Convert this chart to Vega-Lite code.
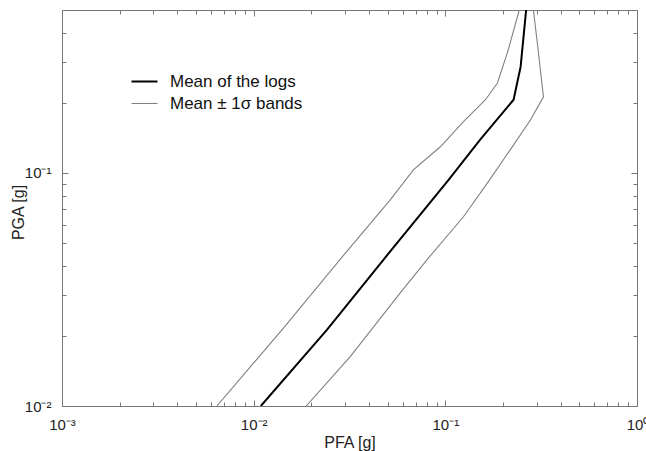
{
  "$schema": "https://vega.github.io/schema/vega-lite/v6.json",
  "width": 575,
  "height": 396,
  "autosize": {"type": "none"},
  "padding": {"left": 62, "top": 10, "right": 9, "bottom": 45},
  "background": "white",
  "config": {
    "view": {"stroke": "#777777", "strokeWidth": 1},
    "axis": {"labelFont": "Liberation Sans", "titleFont": "Liberation Sans", "labelColor": "#222222", "titleColor": "#222222", "titleFontWeight": "normal", "grid": false, "domain": false, "tickColor": "#777777", "tickWidth": 1}
  },
  "data": {"values": [
    {"band": "mean", "series": "Mean of the logs", "pfa": 0.0109, "pga": 0.01},
    {"band": "mean", "series": "Mean of the logs", "pfa": 0.0241, "pga": 0.0212},
    {"band": "mean", "series": "Mean of the logs", "pfa": 0.0474, "pga": 0.0423},
    {"band": "mean", "series": "Mean of the logs", "pfa": 0.104, "pga": 0.0933},
    {"band": "mean", "series": "Mean of the logs", "pfa": 0.152, "pga": 0.139},
    {"band": "mean", "series": "Mean of the logs", "pfa": 0.227, "pga": 0.206},
    {"band": "mean", "series": "Mean of the logs", "pfa": 0.247, "pga": 0.285},
    {"band": "mean", "series": "Mean of the logs", "pfa": 0.264, "pga": 0.5},
    {"band": "lower", "series": "Mean ± 1σ bands", "pfa": 0.00643, "pga": 0.01},
    {"band": "lower", "series": "Mean ± 1σ bands", "pfa": 0.0143, "pga": 0.0216},
    {"band": "lower", "series": "Mean ± 1σ bands", "pfa": 0.0311, "pga": 0.0468},
    {"band": "lower", "series": "Mean ± 1σ bands", "pfa": 0.0516, "pga": 0.0766},
    {"band": "lower", "series": "Mean ± 1σ bands", "pfa": 0.0681, "pga": 0.103},
    {"band": "lower", "series": "Mean ± 1σ bands", "pfa": 0.0942, "pga": 0.1295},
    {"band": "lower", "series": "Mean ± 1σ bands", "pfa": 0.124, "pga": 0.1655},
    {"band": "lower", "series": "Mean ± 1σ bands", "pfa": 0.162, "pga": 0.206},
    {"band": "lower", "series": "Mean ± 1σ bands", "pfa": 0.187, "pga": 0.243},
    {"band": "lower", "series": "Mean ± 1σ bands", "pfa": 0.213, "pga": 0.337},
    {"band": "lower", "series": "Mean ± 1σ bands", "pfa": 0.243, "pga": 0.5},
    {"band": "upper", "series": "Mean ± 1σ bands", "pfa": 0.0188, "pga": 0.01},
    {"band": "upper", "series": "Mean ± 1σ bands", "pfa": 0.0319, "pga": 0.0163},
    {"band": "upper", "series": "Mean ± 1σ bands", "pfa": 0.0582, "pga": 0.0306},
    {"band": "upper", "series": "Mean ± 1σ bands", "pfa": 0.0815, "pga": 0.0431},
    {"band": "upper", "series": "Mean ± 1σ bands", "pfa": 0.124, "pga": 0.0647},
    {"band": "upper", "series": "Mean ± 1σ bands", "pfa": 0.166, "pga": 0.0906},
    {"band": "upper", "series": "Mean ± 1σ bands", "pfa": 0.218, "pga": 0.1256},
    {"band": "upper", "series": "Mean ± 1σ bands", "pfa": 0.278, "pga": 0.1686},
    {"band": "upper", "series": "Mean ± 1σ bands", "pfa": 0.325, "pga": 0.212},
    {"band": "upper", "series": "Mean ± 1σ bands", "pfa": 0.302, "pga": 0.361},
    {"band": "upper", "series": "Mean ± 1σ bands", "pfa": 0.288, "pga": 0.5}
  ]},
  "layer": [
    {
      "mark": {"type": "line", "clip": true},
      "encoding": {
        "x": {"field": "pfa", "type": "quantitative", "scale": {"type": "log", "domain": [0.001, 1], "nice": false},
          "axis": {"orient": "bottom", "values": [0.001, 0.01, 0.1, 1], "labelExpr": "datum.value < 0.005 ? '10⁻³' : datum.value < 0.05 ? '10⁻²' : datum.value < 0.5 ? '10⁻¹' : '10⁰'", "tickSize": -6, "labelPadding": 17, "labelFontSize": 15, "labelFlush": false, "title": "PFA [g]", "titleFontSize": 16, "titleX": 287.5, "titleY": 36, "titleBaseline": "middle"}},
        "y": {"field": "pga", "type": "quantitative", "scale": {"type": "log", "domain": [0.01, 0.5], "nice": false},
          "axis": {"orient": "left", "values": [0.01, 0.1], "labelExpr": "datum.value < 0.05 ? '10⁻²' : '10⁻¹'", "tickSize": -6, "labelPadding": 17, "labelFontSize": 15, "labelFlush": false, "title": "PGA [g]", "titleFontSize": 16, "titleX": -44, "titleY": 202, "titleBaseline": "middle"}},
        "color": {"field": "series", "type": "nominal", "scale": {"domain": ["Mean of the logs", "Mean ± 1σ bands"], "range": ["#000000", "#808080"]},
          "legend": {"orient": "none", "legendX": 74, "legendY": 63, "title": null, "padding": 0, "symbolType": "stroke", "symbolSize": 676, "labelFontSize": 17, "labelFont": "Liberation Sans", "labelColor": "#111111", "labelOffset": 17, "rowPadding": 4,
            "encode": {"symbols": {"update": {"strokeWidth": {"signal": "datum.label == 'Mean of the logs' ? 2 : 1"}}}}}},
        "strokeWidth": {"condition": {"test": "datum.band == 'mean'", "value": 2}, "value": 1.1},
        "detail": {"field": "band", "type": "nominal"},
        "order": {"field": "pga", "type": "quantitative"}
      }
    },
    {
      "mark": {"type": "line", "strokeOpacity": 0},
      "encoding": {
        "x": {"field": "pfa", "type": "quantitative", "scale": {"type": "log", "domain": [0.001, 1], "nice": false},
          "axis": {"orient": "bottom", "values": [0.002, 0.003, 0.004, 0.005, 0.006, 0.007, 0.008, 0.009, 0.02, 0.03, 0.04, 0.05, 0.06, 0.07, 0.08, 0.09, 0.2, 0.3, 0.4, 0.5, 0.6, 0.7, 0.8, 0.9], "labels": false, "tickSize": -4, "title": null}},
        "y": {"field": "pga", "type": "quantitative", "scale": {"type": "log", "domain": [0.01, 0.5], "nice": false},
          "axis": {"orient": "left", "values": [0.02, 0.03, 0.04, 0.05, 0.06, 0.07, 0.08, 0.09, 0.2, 0.3, 0.4], "labels": false, "tickSize": -4, "title": null}},
        "detail": {"field": "band", "type": "nominal"},
        "order": {"field": "pga", "type": "quantitative"}
      }
    },
    {
      "mark": {"type": "line", "strokeOpacity": 0},
      "encoding": {
        "x": {"field": "pfa", "type": "quantitative", "scale": {"type": "log", "domain": [0.001, 1], "nice": false},
          "axis": {"orient": "top", "values": [0.001, 0.01, 0.1, 1], "labels": false, "tickSize": -6, "title": null}},
        "y": {"field": "pga", "type": "quantitative", "scale": {"type": "log", "domain": [0.01, 0.5], "nice": false},
          "axis": {"orient": "right", "values": [0.01, 0.1], "labels": false, "tickSize": -6, "title": null}},
        "detail": {"field": "band", "type": "nominal"},
        "order": {"field": "pga", "type": "quantitative"}
      }
    },
    {
      "mark": {"type": "line", "strokeOpacity": 0},
      "encoding": {
        "x": {"field": "pfa", "type": "quantitative", "scale": {"type": "log", "domain": [0.001, 1], "nice": false},
          "axis": {"orient": "top", "values": [0.002, 0.003, 0.004, 0.005, 0.006, 0.007, 0.008, 0.009, 0.02, 0.03, 0.04, 0.05, 0.06, 0.07, 0.08, 0.09, 0.2, 0.3, 0.4, 0.5, 0.6, 0.7, 0.8, 0.9], "labels": false, "tickSize": -4, "title": null}},
        "y": {"field": "pga", "type": "quantitative", "scale": {"type": "log", "domain": [0.01, 0.5], "nice": false},
          "axis": {"orient": "right", "values": [0.02, 0.03, 0.04, 0.05, 0.06, 0.07, 0.08, 0.09, 0.2, 0.3, 0.4], "labels": false, "tickSize": -4, "title": null}},
        "detail": {"field": "band", "type": "nominal"},
        "order": {"field": "pga", "type": "quantitative"}
      }
    }
  ],
  "resolve": {"axis": {"x": "independent", "y": "independent"}}
}
